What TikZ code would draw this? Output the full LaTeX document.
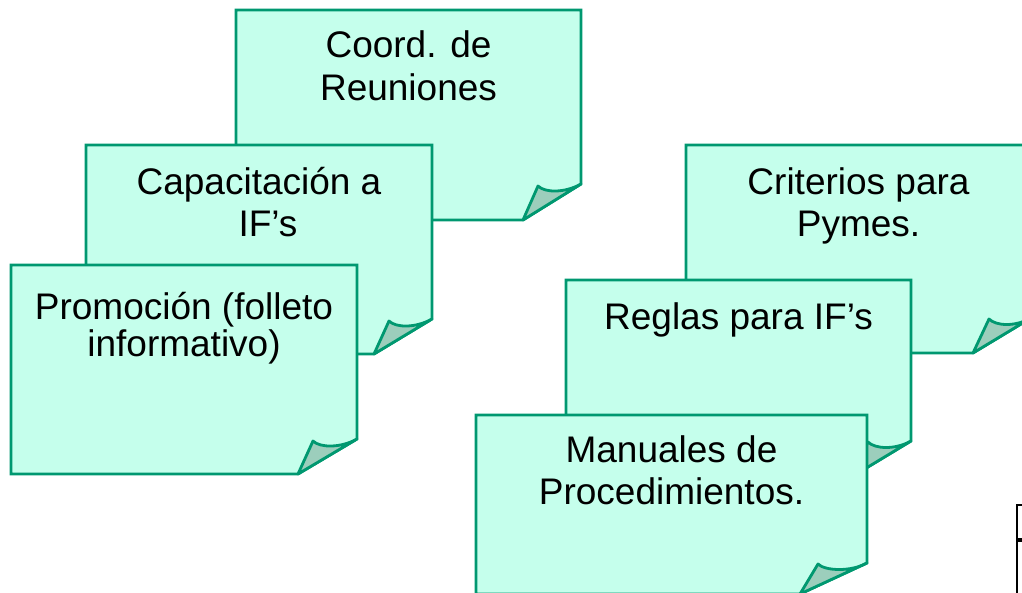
\documentclass[tikz,border=0pt]{standalone}
\usepackage{fontspec}
\setmainfont{Liberation Sans}
\definecolor{notefill}{RGB}{197,255,236}
\definecolor{noteline}{RGB}{0,152,112}
\definecolor{foldfill}{RGB}{156,206,188}
% L T R B foldbottomx foldrighty tipx tipy
\newcommand\stickynote[8]{%
  \draw[note] (#1,#2) -- (#3,#2) -- (#3,#6) -- (#5,#4) -- (#1,#4) -- cycle;
  \draw[fold] (#5,#4) -- (#7,#8) .. controls ({#7+7},{#8+7}) and ({#3-16},{#6+9}) .. (#3,#6) -- cycle;
}
\begin{document}
\begin{tikzpicture}[x=1pt,y=-1pt,
  note/.style={fill=notefill,draw=noteline,line width=2.8pt,line join=miter},
  fold/.style={fill=foldfill,draw=noteline,line width=2.8pt,line join=round},
  txt/.style={anchor=base,inner sep=0pt,font=\fontsize{37}{44}\selectfont}]
\useasboundingbox (0,0) rectangle (1022,592);
\clip (0,0) rectangle (1022,592);
% left group
\stickynote{236}{10}{581}{220}{523}{184}{538}{186}
\node[txt] (n1a) at (408.5,57) {Coord. de};
\node[txt] (n1b) at (408.5,100) {Reuniones};
\stickynote{86}{145}{432}{354}{374}{319}{389}{321}
\node[txt] (n2a) at (259,194) {Capacitación a};
\node[txt] (n2b) at (268,236) {IF’s};
\stickynote{11}{265}{357}{474}{298}{439}{313}{441}
\node[txt] (n3a) at (184,319) {Promoción (folleto};
\node[txt] (n3b) at (184,356) {informativo)};
% right group
\stickynote{686}{145}{1031}{353}{973}{318}{989}{319}
\node[txt] (n4a) at (858.5,194) {Criterios para};
\node[txt] (n4b) at (858.5,236) {Pymes.};
\stickynote{566}{280}{911}{476}{853}{441}{868}{442}
\node[txt] (n5a) at (738.5,329) {Reglas para IF’s};
\stickynote{476}{415}{867}{594}{800}{563}{818}{564}
\node[txt] (n6a) at (671.5,462) {Manuales de};
\node[txt] (n6b) at (671.5,504) {Procedimientos.};
% partial box at the lower right edge
\draw[black,line width=2pt] (1017,600) -- (1017,505) -- (1030,505);
\draw[black,line width=4pt] (1017,540) -- (1030,540);
\end{tikzpicture}
\end{document}
